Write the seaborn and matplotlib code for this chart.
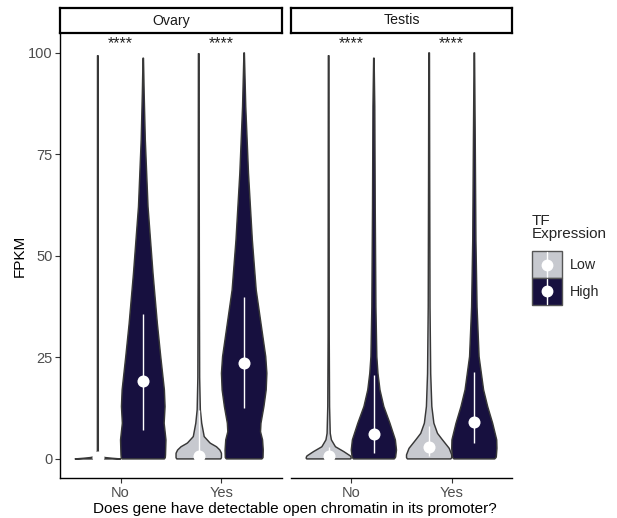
import numpy as np
import pandas as pd
import matplotlib
matplotlib.use("Agg")
import matplotlib.pyplot as plt
from matplotlib.legend_handler import HandlerBase
from matplotlib.patches import Rectangle
from matplotlib.lines import Line2D
import seaborn as sns

# ---------------------------------------------------------------- data
tissues = ["Ovary", "Testis"]
open_chromatin = ["No", "Yes"]
tf_expression = ["Low", "High"]
significance = ["****", "****"]

# Violin outlines: FPKM levels (bottom to top) and relative half-width (1 = widest)
ovary_no_low_fpkm = [0.0, 0.15, 0.35, 0.6, 1.0, 2.0, 99.3]
ovary_no_low_width = [1.0, 0.65, 0.3, 0.1, 0.04, 0.02, 0.015]
ovary_no_high_fpkm = [0.0, 0.3, 1.0, 4.7, 8.8, 12.9, 17.0, 25.2, 33.4, 45.7, 62.1, 78.6, 90.0, 98.7]
ovary_no_high_width = [0.93, 0.97, 0.98, 1.0, 0.92, 0.96, 0.93, 0.77, 0.62, 0.43, 0.21, 0.09, 0.04, 0.01]
ovary_yes_low_fpkm = [0.0, 0.3, 1.4, 2.2, 3.0, 3.9, 5.5, 8.8, 12.1, 20.0, 50.0, 99.8]
ovary_yes_low_width = [0.97, 1.0, 1.0, 0.93, 0.78, 0.5, 0.24, 0.13, 0.07, 0.04, 0.025, 0.015]
ovary_yes_high_fpkm = [0.0, 0.3, 2.2, 4.7, 6.7, 8.8, 12.9, 17.0, 21.1, 25.2, 33.4, 41.6, 53.9, 70.4, 86.8, 100.0]
ovary_yes_high_width = [0.78, 0.83, 0.84, 0.81, 0.72, 0.74, 0.87, 0.97, 1.0, 0.95, 0.74, 0.53, 0.36, 0.19, 0.07, 0.01]

testis_no_low_fpkm = [0.0, 0.2, 0.7, 1.8, 3.0, 4.7, 6.3, 12.9, 30.0, 99.3]
testis_no_low_width = [0.97, 1.0, 0.97, 0.67, 0.3, 0.12, 0.07, 0.04, 0.025, 0.015]
testis_no_high_fpkm = [0.0, 0.4, 2.2, 4.7, 8.8, 12.9, 17.0, 21.1, 25.2, 37.4, 62.0, 86.8, 98.7]
testis_no_high_width = [0.9, 0.96, 1.0, 0.95, 0.71, 0.44, 0.27, 0.18, 0.13, 0.09, 0.06, 0.04, 0.01]
testis_yes_low_fpkm = [0.0, 0.3, 1.0, 2.6, 4.7, 6.3, 8.8, 12.9, 21.0, 37.4, 70.0, 100.0]
testis_yes_low_width = [0.96, 1.0, 1.0, 0.89, 0.59, 0.37, 0.21, 0.12, 0.07, 0.04, 0.025, 0.015]
testis_yes_high_fpkm = [0.0, 0.4, 2.6, 4.7, 8.8, 12.9, 17.0, 25.2, 37.4, 54.0, 78.6, 100.0]
testis_yes_high_width = [0.9, 0.97, 1.0, 0.99, 0.81, 0.59, 0.41, 0.21, 0.12, 0.07, 0.04, 0.01]

# Median and interquartile range per group (order: No-Low, No-High, Yes-Low, Yes-High)
ovary_q1 = [0.1, 7.0, 0.1, 12.5]
ovary_median = [0.5, 19.3, 0.7, 23.7]
ovary_q3 = [1.5, 35.7, 12.0, 39.8]
testis_q1 = [0.2, 1.4, 0.6, 3.9]
testis_median = [0.8, 6.1, 2.9, 9.0]
testis_q3 = [3.0, 20.7, 8.0, 21.5]

y_ticks = [0, 25, 50, 75, 100]

profiles = {
    ("Ovary", "No", "Low"): (ovary_no_low_fpkm, ovary_no_low_width),
    ("Ovary", "No", "High"): (ovary_no_high_fpkm, ovary_no_high_width),
    ("Ovary", "Yes", "Low"): (ovary_yes_low_fpkm, ovary_yes_low_width),
    ("Ovary", "Yes", "High"): (ovary_yes_high_fpkm, ovary_yes_high_width),
    ("Testis", "No", "Low"): (testis_no_low_fpkm, testis_no_low_width),
    ("Testis", "No", "High"): (testis_no_high_fpkm, testis_no_high_width),
    ("Testis", "Yes", "Low"): (testis_yes_low_fpkm, testis_yes_low_width),
    ("Testis", "Yes", "High"): (testis_yes_high_fpkm, testis_yes_high_width),
}

rows = []
for tissue, q1s, meds, q3s in [("Ovary", ovary_q1, ovary_median, ovary_q3),
                               ("Testis", testis_q1, testis_median, testis_q3)]:
    k = 0
    for chrom in open_chromatin:
        for tf in tf_expression:
            rows.append(dict(tissue=tissue, chromatin=chrom, tf=tf,
                             q1=q1s[k], median=meds[k], q3=q3s[k]))
            k += 1
summary = pd.DataFrame(rows)

# ---------------------------------------------------------------- style
sns.set_theme(style="ticks")
plt.rcParams["font.family"] = ["Liberation Sans", "DejaVu Sans"]

fill_colors = {"Low": "#C7C9CF", "High": "#17103F"}
edge_color = "#383838"
dodge = 0.225
half_width = 0.225

W, H = 617, 518
fig = plt.figure(figsize=(W / 100, H / 100), dpi=100)
fig.patch.set_facecolor("white")

panel_x = [(60, 282), (291, 512)]
top_px, bottom_px = 33, 478
strip_top = 8


def draw_violin(ax, center, fpkm, width, color):
    levels = np.asarray(fpkm, float)
    rel = np.asarray(width, float)
    grid = np.linspace(levels[0], levels[-1], 600)
    w = np.interp(grid, levels, rel) * half_width
    xs = np.concatenate([center - w, (center + w)[::-1]])
    ys = np.concatenate([grid, grid[::-1]])
    ax.fill(xs, ys, facecolor=color, edgecolor=edge_color, linewidth=1.05,
            joinstyle="round", zorder=2)


for t_idx, tissue in enumerate(tissues):
    left, right = panel_x[t_idx]
    ax = fig.add_axes([left / W, 1 - bottom_px / H, (right - left) / W,
                       (bottom_px - top_px) / H])
    ax.set_facecolor("white")
    ax.set_xlim(0.4, 2.6)
    ax.set_ylim(-4.7, 104.9)

    for c_idx, chrom in enumerate(open_chromatin):
        for h_idx, tf in enumerate(tf_expression):
            center = c_idx + 1 + (-dodge if h_idx == 0 else dodge)
            fp, wd = profiles[(tissue, chrom, tf)]
            draw_violin(ax, center, fp, wd, fill_colors[tf])

    sub = summary[summary.tissue == tissue].copy()
    sub["xpos"] = [open_chromatin.index(c) + 1 + (-dodge if tf == "Low" else dodge)
                   for c, tf in zip(sub.chromatin, sub.tf)]
    ax.vlines(sub.xpos, sub.q1, sub.q3, color="white", linewidth=1.0, zorder=3)
    sns.scatterplot(data=sub, x="xpos", y="median", color="white", s=75,
                    linewidth=0, zorder=4, ax=ax, legend=False)

    for c_idx, label in enumerate(significance):
        ax.text(c_idx + 1, 102.3, label, ha="center", va="center",
                fontsize=11.5, color="#222222")

    ax.set_xticks([1, 2])
    ax.set_xticklabels(open_chromatin)
    ax.set_xlabel("")
    ax.set_ylabel("")
    ax.tick_params(axis="both", length=3.5, width=0.8, color="#333333",
                   labelcolor="#4D4D4D", labelsize=10.5, pad=2)
    for s in ["top", "right"]:
        ax.spines[s].set_visible(False)
    ax.spines["bottom"].set_color("black")
    ax.spines["bottom"].set_linewidth(1.0)
    if t_idx == 0:
        ax.set_yticks(y_ticks)
        ax.spines["left"].set_color("black")
        ax.spines["left"].set_linewidth(1.0)
        ax.set_ylabel("FPKM", fontsize=11, color="black", labelpad=1)
    else:
        ax.set_yticks([])
        ax.spines["left"].set_visible(False)

    strip = fig.add_axes([left / W, 1 - top_px / H, (right - left) / W,
                          (top_px - strip_top) / H])
    strip.set_xticks([])
    strip.set_yticks([])
    strip.set_facecolor("white")
    for s in strip.spines.values():
        s.set_visible(True)
        s.set_color("black")
        s.set_linewidth(1.6)
    strip.text(0.5, 0.5, tissue, ha="center", va="center", fontsize=10.2,
               color="#1A1A1A", transform=strip.transAxes)

fig.text(295 / W, 1 - 509 / H,
         "Does gene have detectable open chromatin in its promoter?",
         ha="center", va="center", fontsize=11, color="black")


class PointRangeKey(HandlerBase):
    def create_artists(self, legend, orig_handle, xdescent, ydescent,
                       width, height, fontsize, trans):
        rect = Rectangle((-xdescent, -ydescent), width, height,
                         facecolor=orig_handle.get_facecolor(),
                         edgecolor="#555555", linewidth=1.0, transform=trans)
        cx = -xdescent + width / 2
        line = Line2D([cx, cx], [-ydescent + 1, -ydescent + height - 1],
                      color="white", linewidth=1.0, transform=trans)
        dot = Line2D([cx], [-ydescent + height / 2], marker="o", color="white",
                     markersize=7.5, linestyle="none", transform=trans)
        return [rect, line, dot]


handles = [Rectangle((0, 0), 1, 1, facecolor=fill_colors[t]) for t in tf_expression]
leg = fig.legend(handles, tf_expression, title="TF\nExpression",
                 loc="upper left", bbox_to_anchor=(529 / W, 1 - 211 / H),
                 frameon=False, fontsize=10.3, title_fontsize=11,
                 handler_map={Rectangle: PointRangeKey()},
                 handlelength=2.1, handleheight=2.52, labelspacing=0.0,
                 handletextpad=0.55, borderaxespad=0, borderpad=0.2,
                 alignment="left")
leg.get_title().set_linespacing(0.95)
# gap between the legend title and its keys
leg._legend_box.sep = 7

fig.savefig("out.png", dpi=100, facecolor="white")
